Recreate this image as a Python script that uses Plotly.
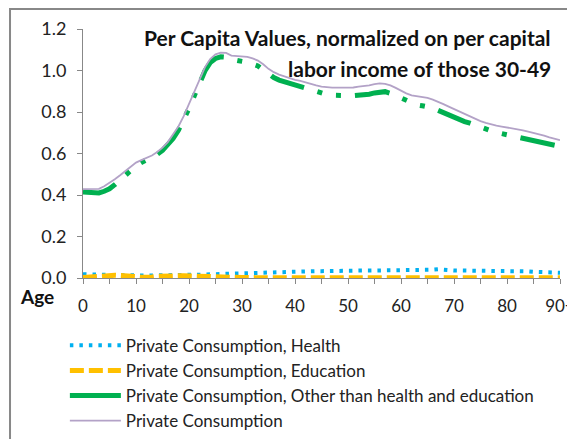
import plotly.graph_objects as go

ages = list(range(0, 91))
tick_vals = [0, 10, 20, 30, 40, 50, 60, 70, 80, 90]
tick_text = ["0", "10", "20", "30", "40", "50", "60", "70", "80", "90+"]

health = [
    0.018, 0.017, 0.016, 0.016, 0.016, 0.015, 0.014, 0.014, 0.013, 0.013,
    0.012, 0.012, 0.012, 0.012, 0.012, 0.013, 0.013, 0.013, 0.014, 0.014,
    0.015, 0.016, 0.016, 0.017, 0.018, 0.019, 0.020, 0.021, 0.022, 0.022,
    0.023, 0.024, 0.025, 0.026, 0.026, 0.027, 0.028, 0.028, 0.029, 0.030,
    0.030, 0.031, 0.031, 0.032, 0.033, 0.033, 0.034, 0.035, 0.035, 0.035,
    0.036, 0.036, 0.036, 0.036, 0.036, 0.036, 0.036, 0.036, 0.036, 0.036,
    0.036, 0.036, 0.036, 0.037, 0.037, 0.038, 0.040, 0.042, 0.039, 0.037,
    0.036, 0.036, 0.036, 0.036, 0.036, 0.036, 0.036, 0.036, 0.036, 0.035,
    0.035, 0.035, 0.034, 0.033, 0.032, 0.030, 0.029, 0.028, 0.027, 0.026,
    0.025,
]

education = [
    0.002, 0.004, 0.008, 0.012, 0.014, 0.014, 0.013, 0.012, 0.012, 0.010,
    0.007, 0.004, 0.003, 0.005, 0.008, 0.010, 0.011, 0.011, 0.011, 0.011,
    0.010, 0.008, 0.006, 0.004, 0.003, 0.002, 0.002, 0.002, 0.002, 0.002,
    0.002, 0.002, 0.001, 0.001, 0.001, 0.001, 0.001, 0.001, 0.001, 0.001,
    0.001, 0.001, 0.001, 0.001, 0.001, 0.001, 0.001, 0.001, 0.001, 0.001,
    0.001, 0.001, 0.001, 0.001, 0.001, 0.001, 0.001, 0.001, 0.001, 0.001,
    0.001, 0.001, 0.001, 0.001, 0.001, 0.001, 0.001, 0.001, 0.001, 0.001,
    0.001, 0.001, 0.001, 0.001, 0.001, 0.001, 0.001, 0.001, 0.001, 0.001,
    0.001, 0.001, 0.001, 0.001, 0.001, 0.001, 0.001, 0.001, 0.001, 0.001,
    0.001,
]

other = [
    0.414, 0.412, 0.410, 0.410, 0.418, 0.430, 0.450, 0.472, 0.498, 0.522,
    0.540, 0.556, 0.568, 0.580, 0.596, 0.615, 0.640, 0.672, 0.712, 0.762,
    0.818, 0.878, 0.938, 0.998, 1.038, 1.058, 1.066, 1.064, 1.054, 1.046,
    1.044, 1.040, 1.032, 1.022, 1.004, 0.984, 0.966, 0.954, 0.946, 0.938,
    0.930, 0.922, 0.912, 0.902, 0.894, 0.888, 0.884, 0.881, 0.879, 0.879,
    0.879, 0.879, 0.880, 0.882, 0.886, 0.892, 0.898, 0.898, 0.890, 0.878,
    0.864, 0.852, 0.840, 0.834, 0.830, 0.826, 0.820, 0.808, 0.796, 0.786,
    0.776, 0.764, 0.754, 0.746, 0.736, 0.726, 0.716, 0.708, 0.700, 0.696,
    0.690, 0.684, 0.678, 0.674, 0.668, 0.662, 0.658, 0.652, 0.646, 0.640,
    0.634,
]

total = [
    0.428, 0.428, 0.428, 0.430, 0.442, 0.458, 0.476, 0.495, 0.515, 0.537,
    0.556, 0.568, 0.578, 0.590, 0.607, 0.628, 0.655, 0.690, 0.730, 0.780,
    0.838, 0.895, 0.955, 1.015, 1.055, 1.078, 1.086, 1.085, 1.072, 1.070,
    1.070, 1.066, 1.058, 1.048, 1.030, 1.008, 0.992, 0.980, 0.972, 0.962,
    0.955, 0.950, 0.942, 0.935, 0.928, 0.922, 0.918, 0.917, 0.917, 0.917,
    0.918, 0.918, 0.922, 0.924, 0.928, 0.934, 0.938, 0.936, 0.928, 0.916,
    0.902, 0.890, 0.880, 0.876, 0.874, 0.868, 0.860, 0.850, 0.838, 0.826,
    0.814, 0.802, 0.790, 0.778, 0.766, 0.756, 0.748, 0.740, 0.734, 0.730,
    0.726, 0.722, 0.718, 0.712, 0.706, 0.700, 0.694, 0.686, 0.678, 0.670,
    0.664,
]

FONT = "Lato"
BLUE = "#00B0F0"
ORANGE = "#FFC000"
GREEN = "#00B050"
LAVENDER = "#B3A2C7"

fig = go.Figure()

fig.add_trace(go.Scatter(
    x=ages, y=health, mode="lines", name="Private Consumption, Health",
    legendgroup="a", line=dict(color=BLUE, width=4, dash="3.5px,6px"),
))
fig.add_trace(go.Scatter(
    x=ages, y=education, mode="lines", name="Private Consumption, Education",
    legendgroup="b", line=dict(color=ORANGE, width=5, dash="14px,5px"),
))
fig.add_trace(go.Scatter(
    x=ages, y=other, mode="lines", showlegend=False, legendgroup="c",
    line=dict(color=GREEN, width=5, dash="35px,14px,5px,14px,5px,14px"),
))
# legend sample for the green series is drawn solid in the original
fig.add_trace(go.Scatter(
    x=[None], y=[None], mode="lines", legendgroup="c",
    name="Private Consumption, Other than health and education",
    line=dict(color=GREEN, width=5),
))
fig.add_trace(go.Scatter(
    x=ages, y=total, mode="lines", name="Private Consumption",
    legendgroup="d", line=dict(color=LAVENDER, width=1.8),
))

# the page body adds an 8px offset, so margins are shifted to compensate
fig.update_layout(
    width=575, height=439,
    margin=dict(l=75, r=23, t=21, b=169, autoexpand=False),
    paper_bgcolor="white", plot_bgcolor="white",
    font=dict(family=FONT, color="#222222"),
    showlegend=True,
    legend=dict(
        x=-0.038, y=-0.2, xanchor="left", yanchor="top",
        orientation="v", itemwidth=51, tracegroupgap=0,
        font=dict(family=FONT, size=17, color="#222222"),
        bgcolor="rgba(0,0,0,0)",
    ),
    xaxis=dict(
        range=[0, 90], showgrid=False, zeroline=False,
        showline=True, linecolor="#888888", linewidth=1,
        tickmode="array", tickvals=tick_vals, ticktext=tick_text,
        ticks="outside", ticklen=5, tickcolor="#888888",
        tickfont=dict(family=FONT, size=17, color="#222222"),
        ticklabelstandoff=8,
        minor=dict(dtick=5, tick0=0, ticks="outside", ticklen=5, tickcolor="#888888"),
    ),
    yaxis=dict(
        range=[0, 1.2], showgrid=False, zeroline=False,
        showline=True, linecolor="#888888", linewidth=1,
        tickmode="linear", tick0=0, dtick=0.2, tickformat=".1f",
        ticks="outside", ticklen=5, tickcolor="#888888",
        tickfont=dict(family=FONT, size=18, color="#222222"),
        ticklabelstandoff=7,
    ),
)

fig.add_annotation(
    text="<b>Per Capita Values, normalized on per capital</b>",
    xref="paper", yref="paper", x=0.985, y=0.964,
    xanchor="right", yanchor="middle", showarrow=False,
    font=dict(family=FONT, size=21, color="#111111"),
)
fig.add_annotation(
    text="<b>labor income of those 30-49</b>",
    xref="paper", yref="paper", x=0.985, y=0.843,
    xanchor="right", yanchor="middle", showarrow=False,
    font=dict(family=FONT, size=21, color="#111111"),
)
fig.add_annotation(
    text="<b>Age</b>",
    xref="paper", yref="paper", x=-0.136, y=-0.074,
    xanchor="left", yanchor="middle", showarrow=False,
    font=dict(family=FONT, size=19, color="#111111"),
)

# outer chart border, cut off at the right and bottom edges
fig.add_shape(
    type="rect", xref="paper", yref="paper",
    x0=-0.153, y0=-1.0, x1=1.5, y1=1.080,
    line=dict(color="#888888", width=2), layer="below",
)

fig.write_html("out.html")
